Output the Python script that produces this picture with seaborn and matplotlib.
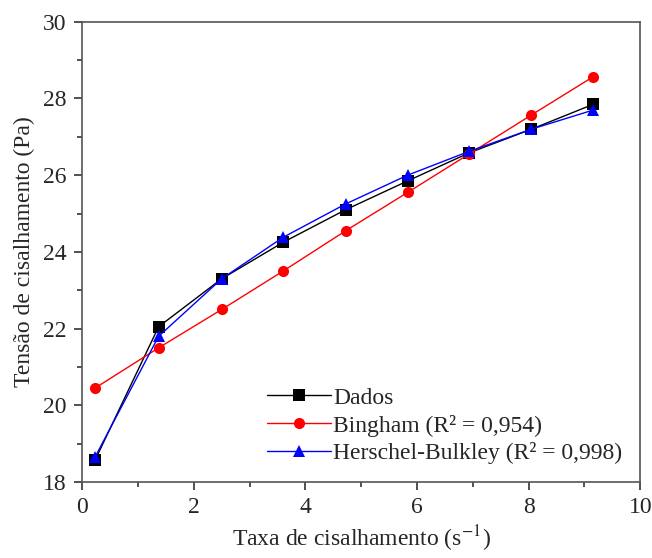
import numpy as np
import pandas as pd
import matplotlib
matplotlib.use('Agg')
import matplotlib.pyplot as plt
import seaborn as sns

# dados
taxa = [0.23, 1.37, 2.50, 3.60, 4.72, 5.83, 6.93, 8.05, 9.16]
dados = [18.57, 22.05, 23.30, 24.25, 25.10, 25.85, 26.58, 27.20, 27.85]
bingham = [20.45, 21.50, 22.50, 23.50, 24.55, 25.55, 26.55, 27.57, 28.57]
hb = [18.65, 21.80, 23.30, 24.38, 25.25, 26.00, 26.62, 27.20, 27.70]

nomes = ['Dados', 'Bingham (R² = 0,954)', 'Herschel-Bulkley (R² = 0,998)']
cores = ['black', 'red', 'blue']
marcas = ['s', 'o', '^']

df = pd.DataFrame({
    'taxa': taxa * 3,
    'tensao': dados + bingham + hb,
    'modelo': [nomes[0]] * len(taxa) + [nomes[1]] * len(taxa) + [nomes[2]] * len(taxa),
})

sns.set_style('ticks')
plt.rcParams['font.family'] = ['Liberation Serif', 'DejaVu Serif']
plt.rcParams['mathtext.fontset'] = 'stix'

fig = plt.figure(figsize=(6.52, 5.58), dpi=100)
ax = fig.add_axes([0.126, 0.136, 0.856, 0.825])

sns.lineplot(data=df, x='taxa', y='tensao', hue='modelo', style='modelo',
             hue_order=nomes, style_order=nomes,
             palette=dict(zip(nomes, cores)), markers=dict(zip(nomes, marcas)),
             dashes=False, linewidth=1, markersize=8, markeredgewidth=0,
             ax=ax)

ax.set_xlim(0, 10)
ax.set_ylim(18, 30)
ax.set_xticks([0, 2, 4, 6, 8, 10])
ax.set_xticks([1, 3, 5, 7, 9], minor=True)
ax.set_yticks([18, 20, 22, 24, 26, 28, 30])
ax.set_yticks([19, 21, 23, 25, 27, 29], minor=True)
ax.tick_params(which='major', direction='out', length=6, width=1.2, labelsize=17,
               color='#333333', pad=5)
ax.tick_params(which='minor', direction='out', length=3.5, width=1.2, color='#333333')
for s in ax.spines.values():
    s.set_visible(True)
    s.set_linewidth(1.2)
    s.set_color('#555555')

ax.set_xlabel('Taxa de cisalhamento (s$^{-1}$)', fontsize=17, labelpad=4)
ax.set_ylabel('Tensão de cisalhamento (Pa)', fontsize=17, labelpad=6)

ax.legend(loc='lower right', frameon=False, fontsize=17, handlelength=2.7,
          handletextpad=0.1, labelspacing=0.25, borderaxespad=0.35)

fig.savefig('out.png', dpi=100)
